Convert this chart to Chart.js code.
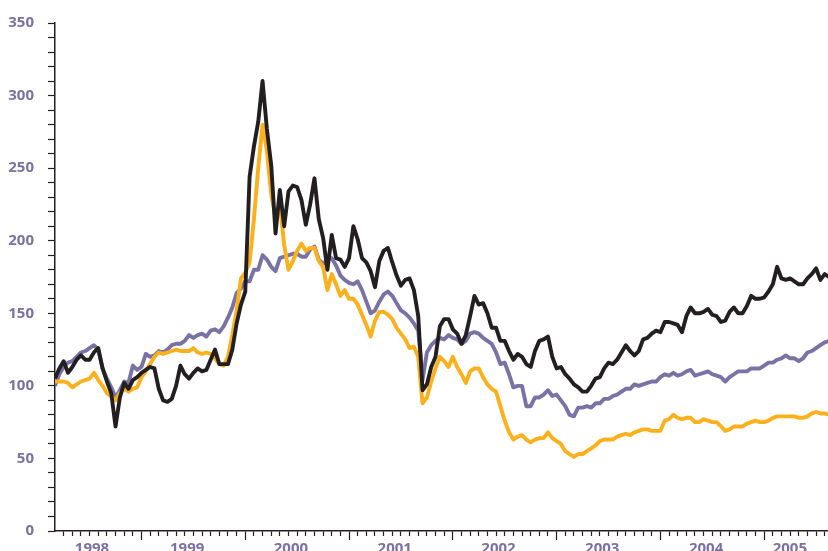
<!DOCTYPE html>
<html>
<head>
<meta charset="utf-8">
<script src="https://cdn.jsdelivr.net/npm/chart.js@4.4.1/dist/chart.umd.min.js"></script>
<style>
  html, body { margin: 0; padding: 0; background: #fff; overflow: hidden; }
  #wrap { width: 828px; height: 558px; }
</style>
</head>
<body>
<div id="wrap"><canvas id="mainCanvas"></canvas></div>
<script>
// half-monthly samples, first one at 1 March 1998
var startYear = 1998, startMonth = 2;
var xMin = 1998 + 2 / 12, xMax = 2005.615;

var blackSeries = [
  105,112,117,109,113,118,121,118,118,123,
  126,112,103,95,72,92,102,98,104,106,
  109,111,113,112,98,90,89,91,100,114,
  108,105,109,112,110,111,118,125,115,115,
  115,125,143,156,165,244,265,282,310,277,
  252,205,235,210,234,238,237,228,211,225,
  243,215,202,180,204,188,187,182,188,210,
  201,188,185,179,168,186,193,195,185,176,
  169,173,174,166,148,97,101,113,120,141,
  146,146,139,136,129,135,148,162,156,157,
  150,140,140,131,131,124,118,122,120,115,
  113,124,131,132,134,120,112,113,108,105,
  101,99,96,96,100,105,106,112,116,115,
  118,123,128,124,121,124,132,133,136,138,
  137,144,144,143,142,137,148,154,150,150,
  151,153,149,148,144,145,151,154,150,150,
  155,162,160,160,161,165,170,182,174,173,
  174,172,170,170,174,177,181,173,177,175
];
var purpleSeries = [
  100,108,113,116,117,120,123,124,126,128,
  125,112,105,99,92,97,103,102,114,111,
  113,122,120,121,124,123,125,128,129,129,
  131,135,133,135,136,134,138,139,137,141,
  147,154,164,167,172,172,180,180,190,187,
  182,179,188,189,190,191,191,189,189,194,
  196,187,184,187,188,183,176,173,171,170,
  172,166,158,150,152,158,163,165,162,157,
  152,150,147,143,138,104,123,128,131,133,
  132,135,133,132,129,131,136,137,136,133,
  131,129,123,115,116,108,99,100,100,86,
  86,92,92,94,97,93,94,90,86,80,
  79,85,85,86,85,88,88,91,91,93,
  94,96,98,98,101,100,101,102,103,103,
  106,108,107,109,107,108,110,111,107,108,
  109,110,108,107,106,103,106,108,110,110,
  110,112,112,112,114,116,116,118,119,121,
  119,119,117,119,123,124,126,128,130,131
];
var orangeSeries = [
  103,103,103,102,99,101,103,104,105,109,
  104,100,95,93,90,95,98,96,98,99,
  106,110,115,120,123,122,123,124,125,124,
  124,124,126,123,122,123,122,119,115,114,
  120,135,152,174,178,185,215,250,280,262,
  232,216,225,197,180,186,193,198,193,195,
  195,186,182,166,177,170,162,166,160,160,
  156,149,142,134,145,151,151,149,146,140,
  136,132,126,127,120,88,92,103,112,120,
  117,113,120,113,108,102,110,112,112,106,
  101,98,96,86,76,68,63,65,66,63,
  61,63,64,64,68,64,62,60,55,53,
  51,53,53,55,57,59,62,63,63,63,
  65,66,67,66,68,69,70,70,69,69,
  69,76,77,80,78,77,78,78,75,75,
  77,76,75,75,72,69,70,72,72,72,
  74,75,76,75,75,76,78,79,79,79,
  79,79,78,78,79,81,82,81,81,80
];

var yearNames = ['1998','1999','2000','2001','2002','2003','2004','2005'];

var dates = blackSeries.map(function (_, i) { return startYear + (startMonth + i / 2) / 12; });
function pts(arr) { return arr.map(function (v, i) { return { x: dates[i], y: v }; }); }

var ink = '#231f20', lilac = '#7a72a5', amber = '#fbb01c';
var labelFont = { family: 'Open Sans', weight: 'bold', size: 15 };

// month ticks on the axis line, year ticks + year names on the row below
var monthTicks = [];
for (var m = 3; m <= 91; m++) monthTicks.push({ value: 1998 + m / 12 });
var yearTicks = [];
for (var y = 1999; y <= 2005; y++) yearTicks.push({ value: y });
yearNames.forEach(function (name) {
  var yr = +name;
  var a = Math.max(yr, xMin), b = Math.min(yr + 1, xMax);
  yearTicks.push({ value: (a + b) / 2 - 0.06, text: name });
});

new Chart(document.getElementById('mainCanvas'), {
  type: 'line',
  data: {
    datasets: [
      { data: pts(blackSeries), borderColor: ink, order: 0 },
      { data: pts(orangeSeries), borderColor: amber, order: 1 },
      { data: pts(purpleSeries), borderColor: lilac, order: 2 }
    ]
  },
  options: {
    responsive: true,
    maintainAspectRatio: false,
    animation: false,
    layout: { padding: { top: 20, right: 0, bottom: 0, left: 0 } },
    elements: {
      point: { radius: 0 },
      line: { borderWidth: 3.9, tension: 0, borderJoinStyle: 'round', fill: false }
    },
    plugins: { legend: { display: false }, tooltip: { enabled: false } },
    scales: {
      x: {
        type: 'linear', min: xMin, max: xMax,
        afterBuildTicks: function (s) { s.ticks = monthTicks.slice(); },
        ticks: { display: false, autoSkip: false },
        grid: { drawOnChartArea: false, tickLength: 5, tickColor: ink, tickWidth: 1.2 },
        border: { color: ink, width: 1.5 }
      },
      years: {
        type: 'linear', position: 'bottom', min: xMin, max: xMax,
        afterBuildTicks: function (s) { s.ticks = yearTicks.slice(); },
        ticks: {
          autoSkip: false, maxRotation: 0, padding: 0, color: lilac, font: labelFont,
          callback: function (v, i, t) { return t[i].text || ''; }
        },
        grid: {
          drawOnChartArea: false, tickLength: 4, tickWidth: 1.2,
          tickColor: function (c) { return c.tick && c.tick.text ? 'rgba(0,0,0,0)' : ink; }
        },
        border: { display: false }
      },
      y: {
        min: 0, max: 350,
        afterFit: function (s) { s.width = 55; },
        ticks: {
          stepSize: 10, maxTicksLimit: 40, autoSkip: false, padding: 14,
          color: lilac, font: labelFont,
          callback: function (v) { return v % 50 === 0 ? v : ''; }
        },
        grid: { drawOnChartArea: false, tickLength: 7, tickColor: ink, tickWidth: 1.2 },
        border: { color: ink, width: 1.5 }
      }
    }
  }
});
</script>
</body>
</html>
